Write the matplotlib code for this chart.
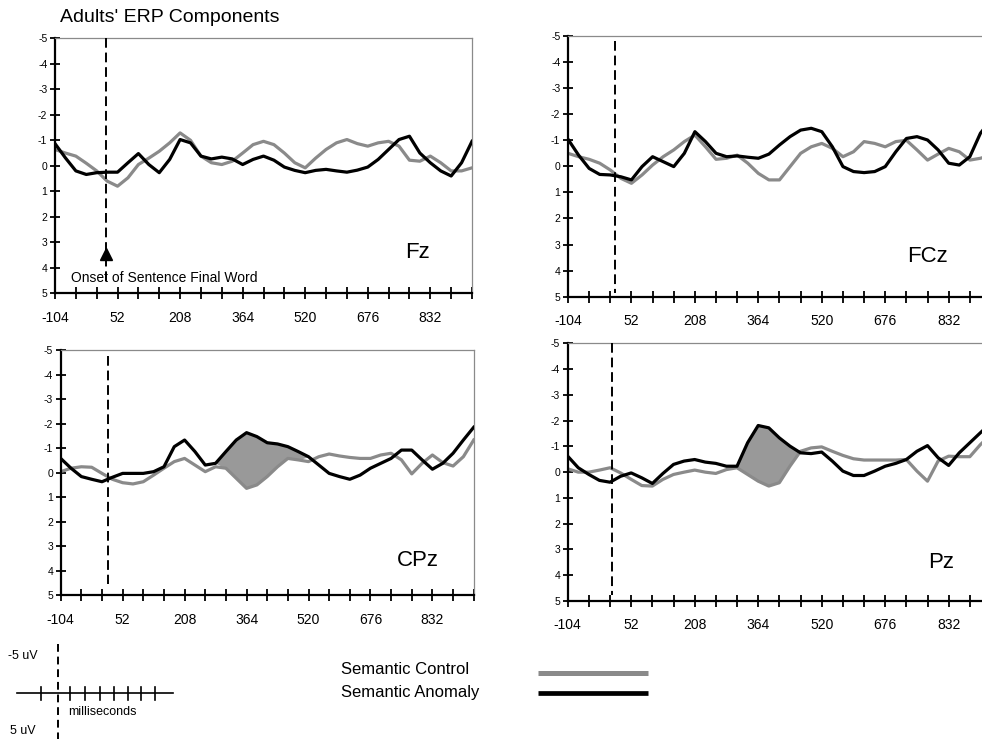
import numpy as np
import matplotlib
matplotlib.use("Agg")
import matplotlib.pyplot as plt

plt.rcParams["font.family"] = ["Liberation Sans", "DejaVu Sans"]

# time grid (ms), one sample every half tick
times = np.arange(-104, 937, 26)

# Fz
fz_control = [-0.64, -0.5, -0.38, -0.1, 0.2, 0.6, 0.8, 0.47, -0.05, -0.3, -0.57, -0.9, -1.29, -1.0,
              -0.38, -0.12, -0.05, -0.18, -0.5, -0.83, -0.96, -0.83, -0.5, -0.12, 0.08, -0.3, -0.64,
              -0.9, -1.03, -0.87, -0.77, -0.9, -0.96, -0.77, -0.22, -0.18, -0.38, -0.12, 0.2, 0.2, 0.08]
fz_anomaly = [-0.87, -0.31, 0.2, 0.34, 0.27, 0.25, 0.25, -0.12, -0.48, -0.05, 0.27, -0.25, -1.03, -0.9,
              -0.38, -0.27, -0.34, -0.27, -0.05, -0.25, -0.38, -0.22, 0.05, 0.18, 0.27, 0.18, 0.14,
              0.2, 0.25, 0.17, 0.05, -0.25, -0.64, -1.03, -1.16, -0.5, -0.12, 0.2, 0.4, -0.12, -0.96]

# FCz
fcz_control = [-0.5, -0.37, -0.27, -0.12, 0.14, 0.46, 0.65, 0.33, -0.05, -0.37, -0.63, -0.95, -1.2, -0.75,
               -0.27, -0.31, -0.43, -0.12, 0.27, 0.52, 0.52, 0.01, -0.5, -0.75, -0.88, -0.69, -0.37,
               -0.56, -0.95, -0.88, -0.75, -0.95, -1.0, -0.63, -0.24, -0.47, -0.69, -0.56, -0.24, -0.31, -0.43]
fcz_anomaly = [-1.04, -0.43, 0.08, 0.31, 0.33, 0.4, 0.52, 0.01, -0.37, -0.18, 0.01, -0.5, -1.33, -0.95,
               -0.5, -0.37, -0.4, -0.35, -0.31, -0.47, -0.82, -1.14, -1.39, -1.46, -1.33, -0.75, 0.01,
               0.2, 0.24, 0.2, 0.01, -0.56, -1.07, -1.14, -1.01, -0.63, -0.12, -0.05, -0.37, -1.27, -1.78]

# CPz
cpz_control = [-0.04, -0.18, -0.24, -0.22, 0.03, 0.27, 0.41, 0.46, 0.37, 0.1, -0.18, -0.45, -0.58, -0.31,
               -0.04, -0.24, -0.18, 0.23, 0.64, 0.5, 0.16, -0.24, -0.58, -0.52, -0.45, -0.65, -0.76,
               -0.68, -0.62, -0.58, -0.58, -0.72, -0.79, -0.52, 0.05, -0.38, -0.72, -0.41, -0.27, -0.65, -1.33]
cpz_anomaly = [-0.58, -0.18, 0.16, 0.27, 0.37, 0.19, 0.03, 0.03, 0.03, -0.04, -0.24, -1.06, -1.33, -0.86,
               -0.31, -0.38, -0.86, -1.33, -1.63, -1.47, -1.22, -1.17, -1.06, -0.86, -0.65, -0.31, 0.03,
               0.16, 0.27, 0.1, -0.18, -0.38, -0.58, -0.92, -0.92, -0.52, -0.14, -0.38, -0.79, -1.33, -1.85]

# Pz
pz_control = [-0.13, 0.0, 0.0, -0.08, -0.17, 0.03, 0.28, 0.52, 0.54, 0.28, 0.09, 0.0, -0.08, 0.0,
              0.05, -0.1, -0.17, 0.09, 0.35, 0.54, 0.41, -0.23, -0.81, -0.94, -0.98, -0.81, -0.65,
              -0.52, -0.47, -0.47, -0.47, -0.47, -0.49, -0.04, 0.35, -0.43, -0.62, -0.6, -0.6, -1.07, -1.46]
pz_anomaly = [-0.62, -0.17, 0.09, 0.32, 0.39, 0.16, 0.03, 0.22, 0.44, 0.05, -0.3, -0.43, -0.49, -0.39,
              -0.34, -0.23, -0.23, -1.14, -1.81, -1.72, -1.33, -1.01, -0.75, -0.72, -0.78, -0.43, -0.04,
              0.13, 0.13, -0.04, -0.23, -0.34, -0.49, -0.81, -1.03, -0.56, -0.26, -0.75, -1.14, -1.53, -1.91]

sites = ["Fz", "FCz", "CPz", "Pz"]
onsets = [22, 11, 14, 4]          # where the dashed onset line was drawn (ms)
shaded = [False, False, True, True]
n400_window = (312, 494)

xticks = np.arange(-104, 937, 52)
xlabels = [str(v) if i % 3 == 0 and v < 900 else "" for i, v in enumerate(xticks)]
yticks = [-5, -4, -3, -2, -1, 0, 1, 2, 3, 4, 5]

W, H = 982, 739
GRAY = "#8a8a8a"


def px_axes(fig, left, top, right, bottom):
    return fig.add_axes([left / W, 1 - bottom / H, (right - left) / W, (bottom - top) / H])


fig = plt.figure(figsize=(W / 100, H / 100), dpi=100)

boxes = [(55, 38.3, 472, 293.3), (568, 36, 991, 296.7),
         (60.7, 350, 473.7, 595.3), (567.7, 343.3, 991, 601)]
dash_span = [(-5, 4.55), (-4.8, 4.85), (-4.75, 4.55), (-5, 4.75)]
label_pos = [(405, 253), (907, 256), (397, 560), (928, 562)]
controls = [fz_control, fcz_control, cpz_control, pz_control]
anomalies = [fz_anomaly, fcz_anomaly, cpz_anomaly, pz_anomaly]

for i, site in enumerate(sites):
    ax = px_axes(fig, *boxes[i])
    c = np.array(controls[i])
    a = np.array(anomalies[i])
    if shaded[i]:
        win = (times >= n400_window[0]) & (times <= n400_window[1])
        ax.fill_between(times, a, c, where=win & (a <= c), interpolate=True,
                        color="#999999", lw=0, zorder=1)
    ax.plot(times, c, color=GRAY, lw=2.3, zorder=2)
    ax.plot(times, a, color="black", lw=2.3, zorder=3)
    ax.vlines(onsets[i], *dash_span[i], colors="black", lw=1.4,
              linestyles=(0, (5, 2.5)), zorder=4)

    ax.set_xlim(-104, 936)
    ax.set_ylim(5, -5)
    ax.set_xticks(xticks)
    ax.set_xticklabels(xlabels, fontsize=10)
    ax.set_yticks(yticks)
    ax.set_yticklabels([str(v) for v in yticks], fontsize=7.5)
    ax.tick_params(axis="x", direction="inout", length=9, width=1.3, pad=8)
    ax.tick_params(axis="y", direction="inout", length=7, width=1.3, pad=2)
    for s in ["left", "bottom"]:
        ax.spines[s].set_linewidth(1.6)
    for s in ["top", "right"]:
        ax.spines[s].set_color(GRAY)
        ax.spines[s].set_linewidth(0.9)
    ax.patch.set_alpha(0)

    lx, ly = label_pos[i]
    fig.text(lx / W, 1 - ly / H, site, fontsize=16, va="center", ha="left")

    if i == 0:
        ax.plot([onsets[i]], [3.45], marker="^", color="black", ms=9, zorder=5)
        ax.text(-64, 4.4, "Onset of Sentence Final Word", fontsize=10, va="center")

fig.text(60 / W, 1 - 18 / H, "Adults' ERP Components", fontsize=14, va="center")

# scale bar and legend, drawn in pixel units
ov = fig.add_axes([0, 0, 1, 1])
ov.set_xlim(0, W)
ov.set_ylim(H, 0)
ov.axis("off")
ov.patch.set_alpha(0)

ov.plot([58.3, 58.3], [644, 739], color="black", lw=1.4, ls=(0, (4, 2.5)))
ov.plot([16.7, 173], [693.3, 693.3], color="black", lw=1.2)
for tx in [40.7, 70, 85, 100, 114, 128, 141.5, 155]:
    ov.plot([tx, tx], [687, 700], color="black", lw=1.2)
ov.text(8, 656, "-5 uV", fontsize=9, va="center")
ov.text(68, 712, "milliseconds", fontsize=9, va="center")
ov.text(10, 731, "5 uV", fontsize=9, va="center")

ov.text(341, 670, "Semantic Control", fontsize=12, va="center")
ov.text(341, 692.5, "Semantic Anomaly", fontsize=12, va="center")
ov.plot([538, 648], [672.7, 672.7], color=GRAY, lw=3.6, solid_capstyle="butt")
ov.plot([538, 648], [693.3, 693.3], color="black", lw=3.4, solid_capstyle="butt")

fig.savefig("out.png", dpi=100)
